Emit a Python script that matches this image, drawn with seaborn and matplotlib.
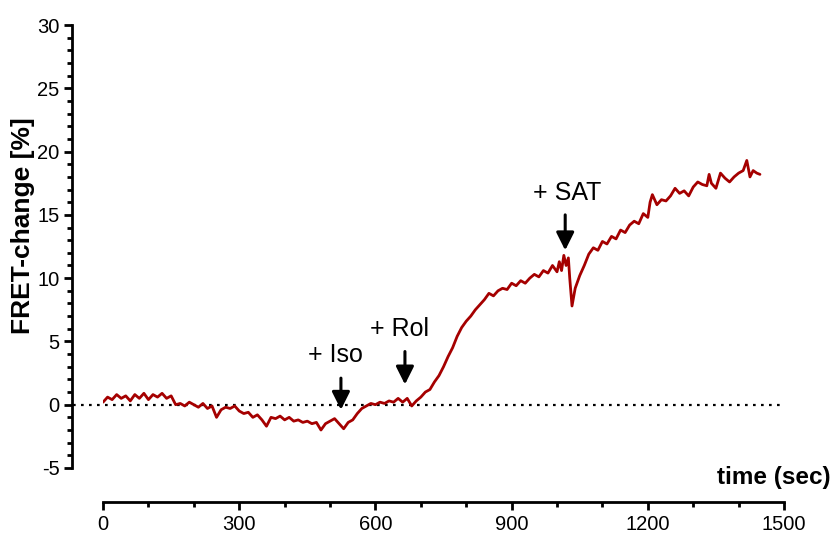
import numpy as np
import pandas as pd
import matplotlib
matplotlib.use("Agg")
import matplotlib.pyplot as plt
from matplotlib.ticker import MultipleLocator
import seaborn as sns

# FRET trace: time (s) and FRET change (%)
time_sec = [
    0, 10, 20, 30, 40, 50, 60, 70, 80, 90, 100, 110, 120, 130, 140, 150,
    160, 170, 180, 190, 200, 210, 220, 230, 240, 250, 260,
    270, 280, 290, 300, 310, 320, 330, 340, 350, 360, 370,
    380, 390, 400, 410, 420, 430, 440, 450, 460,
    470, 480, 490, 500, 510, 520, 530, 540, 550, 560, 570,
    580, 590, 600, 610, 620, 630, 640, 650, 660, 670, 680, 690, 700, 710,
    720, 730, 740, 750, 760, 770, 780, 790, 800,
    810, 820, 830, 840, 850, 860, 870, 880, 890, 900, 910, 920, 930, 940,
    950, 960, 970, 980, 990, 1000, 1005, 1010, 1015, 1020, 1025, 1028, 1033,
    1040, 1050, 1060, 1070, 1080, 1090, 1100, 1110, 1120, 1130, 1140, 1150,
    1160, 1170, 1180, 1190, 1200, 1205, 1210, 1220, 1230, 1240, 1250, 1260,
    1270, 1280, 1290, 1300, 1310, 1320, 1330, 1335, 1340, 1350, 1360, 1370,
    1380, 1390, 1400, 1410, 1418, 1425, 1432, 1440, 1447,
]
fret_change = [
    0.2, 0.6, 0.4, 0.8, 0.5, 0.7, 0.3, 0.8, 0.5, 0.9, 0.4, 0.8, 0.6, 0.9, 0.5, 0.7,
    0.0, 0.1, -0.1, 0.2, 0.0, -0.2, 0.1, -0.3, -0.1, -1.0, -0.4,
    -0.2, -0.3, -0.1, -0.5, -0.7, -0.6, -1.0, -0.8, -1.2, -1.7, -1.0,
    -1.1, -0.9, -1.2, -1.0, -1.3, -1.2, -1.4, -1.3, -1.5,
    -1.4, -2.0, -1.5, -1.3, -1.1, -1.5, -1.9, -1.4, -1.2, -0.7, -0.3,
    -0.1, 0.1, 0.0, 0.2, 0.1, 0.3, 0.2, 0.5, 0.2, 0.5, -0.1, 0.3, 0.6, 1.0,
    1.2, 1.8, 2.3, 3.0, 3.8, 4.5, 5.4, 6.1, 6.6,
    7.0, 7.5, 7.9, 8.3, 8.8, 8.6, 9.0, 9.2, 9.1, 9.6, 9.4, 9.8, 9.6, 10.0,
    10.3, 10.1, 10.6, 10.4, 11.0, 10.5, 11.3, 10.6, 11.8, 11.0, 11.6, 10.0, 7.8,
    9.2, 10.2, 11.0, 11.9, 12.4, 12.2, 12.9, 12.7, 13.3, 13.1, 13.8, 13.6,
    14.2, 14.5, 14.3, 15.1, 14.8, 16.0, 16.6, 15.8, 16.2, 16.1, 16.5, 17.1,
    16.7, 16.9, 16.5, 17.2, 17.6, 17.4, 17.3, 18.2, 17.5, 17.1, 18.3, 17.9,
    17.6, 18.0, 18.3, 18.5, 19.3, 18.0, 18.5, 18.3, 18.2,
]

# Drug additions: label, time of addition, arrow top / tip, label position
drug_labels = ["+ Iso", "+ Rol", "+ SAT"]
drug_times = [524, 665, 1018]
arrow_top = [2.1, 4.2, 15.0]
arrow_tip = [-0.4, 1.6, 12.2]
label_t = [511, 654, 1022]
label_y = [3.9, 6.0, 16.7]

x_ticks = [0, 300, 600, 900, 1200, 1500]
y_ticks = [-5, 0, 5, 10, 15, 20, 25, 30]

sns.set_theme(style="ticks")
plt.rcParams["font.family"] = ["Liberation Sans", "DejaVu Sans"]
plt.rcParams["axes.unicode_minus"] = False
plt.rcParams["text.color"] = "black"
plt.rcParams["axes.labelcolor"] = "black"

fig = plt.figure(figsize=(8.33, 5.33), dpi=100)
ax = fig.add_axes([0.1237, 0.122, 0.8175, 0.831])

df = pd.DataFrame({"time": time_sec, "fret": fret_change})
sns.lineplot(data=df, x="time", y="fret", ax=ax, color="#a50000",
             linewidth=2.0, zorder=3)

# zero baseline, running from the y axis to the end of the time axis
ax.plot([-66, 1500], [0, 0], linestyle=(0, (1.2, 2.4)), color="black",
        linewidth=1.6, clip_on=False, zorder=2)

for lab, t, top, tip, lt, ly in zip(drug_labels, drug_times, arrow_top,
                                    arrow_tip, label_t, label_y):
    ax.annotate("", xy=(t, tip), xytext=(t, top),
                arrowprops=dict(arrowstyle="-|>,head_length=0.9,head_width=0.45",
                                color="black", lw=2.2, shrinkA=0, shrinkB=0),
                zorder=4)
    ax.text(lt, ly, lab, ha="center", va="center", fontsize=18, color="black")

ax.set_xlim(0, 1500)
ax.set_ylim(-5, 30)
ax.set_xticks(x_ticks)
ax.set_yticks(y_ticks)
ax.xaxis.set_minor_locator(MultipleLocator(100))
ax.yaxis.set_minor_locator(MultipleLocator(1))

for side in ["top", "right"]:
    ax.spines[side].set_visible(False)
# detached axes (offsets in points)
ax.spines["left"].set_position(("outward", 22.3))
ax.spines["bottom"].set_position(("outward", 24.5))
for side in ["left", "bottom"]:
    ax.spines[side].set_linewidth(2.0)
    ax.spines[side].set_color("black")

ax.tick_params(which="major", length=6, width=2.0, labelsize=14.5, color="black",
               labelcolor="black", pad=3)
ax.tick_params(which="minor", length=3.5, width=2.0, color="black")

ax.set_xlabel("")
ax.set_ylabel("")
fig.text(23 / 833, 1 - 226 / 533, "FRET-change [%]", rotation=90, ha="center",
         va="center", fontsize=19, fontweight="bold")
fig.text(0.997, 0.082, "time (sec)", ha="right", va="bottom", fontsize=17.5,
         fontweight="bold")

fig.savefig("out.png", dpi=100)
